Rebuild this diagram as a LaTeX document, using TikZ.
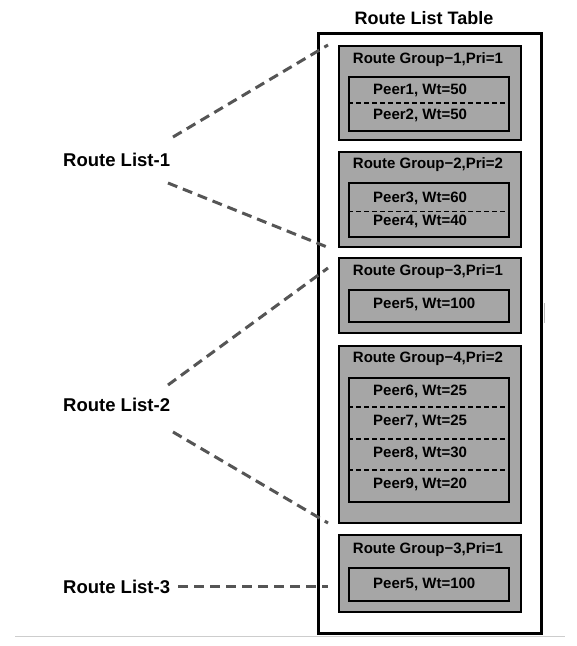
\documentclass[tikz,border=0pt]{standalone}
\usepackage{fontspec}
\setmainfont{Liberation Sans}
\definecolor{grpgray}{RGB}{166,166,166}
\definecolor{linkgray}{RGB}{85,85,85}
\definecolor{rulegray}{RGB}{205,205,205}
\begin{document}
\begin{tikzpicture}[x=1pt,y=-1pt,
  grp/.style={draw=black,line width=2pt,fill=grpgray,minimum width=182pt,inner sep=0pt},
  innerbox/.style={draw=black,line width=2pt,minimum width=160pt,inner sep=0pt},
  peer/.style={anchor=west,inner sep=0pt,font=\fontsize{15}{18}\selectfont\bfseries},
  gtitle/.style={inner sep=0pt,font=\fontsize{15}{18}\selectfont\bfseries},
  listlabel/.style={anchor=west,inner sep=0pt,font=\fontsize{18.5}{22}\selectfont\bfseries},
  link/.style={draw=linkgray,line width=3pt,dash pattern=on 10pt off 6pt},
  sepline/.style={draw=black,line width=1.5pt,dash pattern=on 5pt off 3pt},
  outerbox/.style={draw=black,line width=3pt,minimum width=223pt,minimum height=600pt,inner sep=0pt}]
\useasboundingbox (0,0) rectangle (577,646);

% bottom rule and small mark
\draw[rulegray,line width=1pt] (15,636) -- (565,636);
\draw[rulegray!70!gray,line width=1pt] (544,303) -- (544,323);

% outer table
\node[outerbox] (table) at (429.5,333) {};
\node[inner sep=0pt,font=\fontsize{18}{22}\selectfont\bfseries] (ttitle) at (424,18) {Route List Table};

% group 1
\node[grp,minimum height=94pt] (g1) at (430,93) {};
\node[gtitle] (g1t) at (428,60) {Route Group−1,Pri=1};
\node[innerbox,minimum height=54pt] (i1) at (429,104) {};
\draw[sepline,line width=2pt] (i1.west |- 0,103) -- (i1.east |- 0,103);
\node[peer] (p1) at (373,90) {Peer1, Wt=50};
\node[peer] (p2) at (373,115) {Peer2, Wt=50};

% group 2
\node[grp,minimum height=95pt] (g2) at (430,199.5) {};
\node[gtitle] (g2t) at (428,165) {Route Group−2,Pri=2};
\node[innerbox,minimum height=54pt] (i2) at (429,210) {};
\draw[sepline,line width=1pt] (i2.west |- 0,211) -- (i2.east |- 0,211);
\node[peer] (p3) at (373,198) {Peer3, Wt=60};
\node[peer] (p4) at (373,221) {Peer4, Wt=40};

% group 3
\node[grp,minimum height=75pt] (g3) at (430,295.5) {};
\node[gtitle] (g3t) at (428,272) {Route Group−3,Pri=1};
\node[innerbox,minimum height=32pt] (i3) at (429,306) {};
\node[peer] (p5) at (373,304) {Peer5, Wt=100};

% group 4
\node[grp,minimum height=177pt] (g4) at (430,434.5) {};
\node[gtitle] (g4t) at (428,359) {Route Group−4,Pri=2};
\node[innerbox,minimum height=124pt] (i4) at (429,440) {};
\draw[sepline] (i4.west |- 0,407) -- (i4.east |- 0,407);
\draw[sepline] (i4.west |- 0,439) -- (i4.east |- 0,439);
\draw[sepline] (i4.west |- 0,470) -- (i4.east |- 0,470);
\node[peer] (p6) at (373,391) {Peer6, Wt=25};
\node[peer] (p7) at (373,421) {Peer7, Wt=25};
\node[peer] (p8) at (373,453) {Peer8, Wt=30};
\node[peer] (p9) at (373,484) {Peer9, Wt=20};

% group 5
\node[grp,minimum height=77pt] (g5) at (430,573.5) {};
\node[gtitle] (g5t) at (428,550) {Route Group−3,Pri=1};
\node[innerbox,minimum height=33pt] (i5) at (429,584.5) {};
\node[peer] (p10) at (373,584) {Peer5, Wt=100};

% route list labels
\node[listlabel] (rl1) at (63,160) {Route List-1};
\node[listlabel] (rl2) at (63,405) {Route List-2};
\node[listlabel] (rl3) at (63,587) {Route List-3};

% connector end points
\coordinate (a1) at (173,137);
\coordinate (a2) at (168,183);
\coordinate (b1) at (328,45);
\coordinate (b2) at (327,247);
\coordinate (a3) at (168,385);
\coordinate (a4) at (173,432);
\coordinate (b3) at (328,268);
\coordinate (b4) at (328,523);
\coordinate (a5) at (178,586);
\coordinate (b5) at (328,586);

\draw[link] (a1) -- (b1);
\draw[link] (a2) -- (b2);
\draw[link] (a3) -- (b3);
\draw[link] (a4) -- (b4);
\draw[link] (a5) -- (b5);
\end{tikzpicture}
\end{document}
